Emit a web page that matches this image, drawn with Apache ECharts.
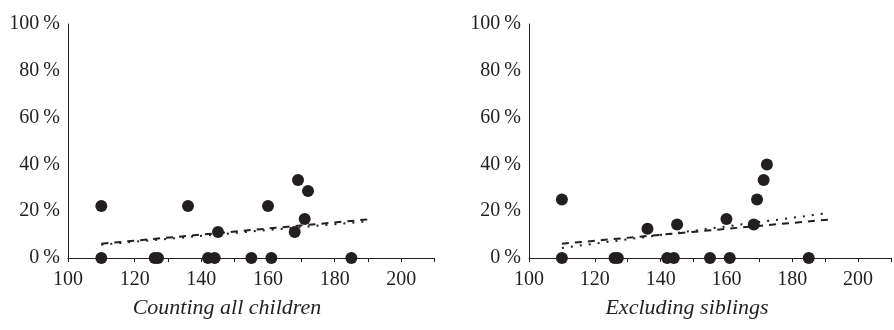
<!DOCTYPE html>
<html><head><meta charset="utf-8">
<script src="https://cdn.jsdelivr.net/npm/echarts@6/dist/echarts.min.js"></script>
<style>html,body{margin:0;padding:0;background:#fff}#c{width:894px;height:330px}</style>
</head><body><div id="c"></div>
<script>
const panelTitles = ["Counting all children", "Excluding siblings"];
const xTickMin = 100, xTickMax = 210, xTickStep = 10;
const yTicks = [0, 20, 40, 60, 80, 100];
const pointsX = [110,110,126,127,136,142,144,145,155,160,161,168,169,171,172,185];
const leftY  = [22.2,0,0,0,22.2,0,0,11.1,0,22.2,0,11.1,33.3,16.7,28.6,0];
const rightX = [110,110,126,127,136,142,144,145,155,160,161,168.3,169.3,171.3,172.3,185];
const rightY = [25,0,0,0,12.5,0,0,14.3,0,16.7,0,14.3,25,33.3,40,0];
const leftDashed  = [[110, 6.1], [190, 16.5]];
const leftDotted  = [[110, 5.7], [190, 15.7]];
const rightDashed = [[110, 6.1], [191, 16.4]];
const rightDotted = [[110, 4.3], [191, 19.2]];

const FONT = "Liberation Serif";
const INK = "#231f20";
const chart = echarts.init(document.getElementById('c'), null, {renderer: 'canvas'});

function xAxis(i) {
  return {
    type: 'value', gridIndex: i, min: xTickMin, max: xTickMax, interval: xTickStep,
    axisLine: {show: true, lineStyle: {color: INK, width: 1}},
    axisTick: {show: true, length: 4, inside: false, lineStyle: {color: INK}},
    splitLine: {show: false},
    axisLabel: {
      color: INK, fontFamily: FONT, fontSize: 20, margin: 12,
      formatter: v => (v % 20 === 0 && v <= 200) ? String(v) : ''
    }
  };
}
function yAxis(i) {
  return {
    type: 'value', gridIndex: i, min: yTicks[0], max: yTicks[yTicks.length-1], interval: 20,
    axisLine: {show: true, onZero: false, lineStyle: {color: INK, width: 1}},
    axisTick: {show: false},
    splitLine: {show: false},
    axisLabel: {color: INK, fontFamily: FONT, fontSize: 20, margin: 8,
      formatter: v => v + '\u2009%'}
  };
}
function scatter(i, xs, ys) {
  return {type: 'scatter', xAxisIndex: i, yAxisIndex: i, symbol: 'circle', symbolSize: 12,
    itemStyle: {color: INK, opacity: 1}, data: xs.map((x, k) => [x, ys[k]]), z: 3};
}
function trend(i, pts, dash) {
  return {type: 'line', xAxisIndex: i, yAxisIndex: i, showSymbol: false, symbol: 'none',
    lineStyle: {color: INK, width: 2, type: dash}, data: pts, z: 2, silent: true};
}

chart.setOption({
  animation: false,
  backgroundColor: '#fff',
  title: [
    {text: panelTitles[0], left: 222, top: 292, textAlign: 'center',
     textStyle: {fontFamily: FONT, fontStyle: 'italic', fontWeight: 'normal', fontSize: 22, color: INK}},
    {text: panelTitles[1], left: 682, top: 292, textAlign: 'center',
     textStyle: {fontFamily: FONT, fontStyle: 'italic', fontWeight: 'normal', fontSize: 22, color: INK}}
  ],
  grid: [
    {left: 68, top: 24, width: 366.7, height: 234, containLabel: false},
    {left: 529, top: 24, width: 365, height: 234, containLabel: false}
  ],
  xAxis: [xAxis(0), xAxis(1)],
  yAxis: [yAxis(0), yAxis(1)],
  series: [
    trend(0, leftDashed, [7, 6]),
    trend(0, leftDotted, [2, 7]),
    scatter(0, pointsX, leftY),
    trend(1, rightDashed, [7, 6]),
    trend(1, rightDotted, [2, 7]),
    scatter(1, rightX, rightY)
  ]
});
</script></body></html>
